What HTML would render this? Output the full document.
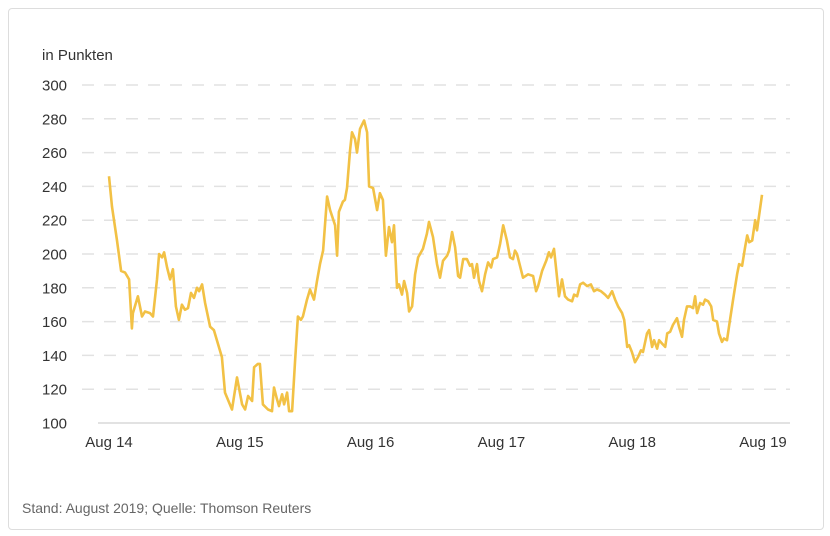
<!DOCTYPE html>
<html><head><meta charset="utf-8"><style>
body{margin:0;background:#fff;width:830px;height:536px;overflow:hidden;font-family:"Liberation Sans",sans-serif}
#card{position:absolute;left:8px;top:8px;width:816px;height:522px;border:1px solid #ddd;border-radius:4px;box-sizing:border-box}
</style></head><body>
<div id="card"></div>
<svg id="chart" width="830" height="536" style="position:absolute;left:0;top:0">
<text x="42" y="60" font-size="15" fill="#333">in Punkten</text>
<g id="grid"></g><g id="xt"></g>
<path id="line" fill="none" stroke="#F2C145" stroke-width="2.6" stroke-linejoin="round"/>
<text x="22" y="513" font-size="14" fill="#666">Stand: August 2019; Quelle: Thomson Reuters</text>
</svg>
<script>
const yTicks=[100,120,140,160,180,200,220,240,260,280,300];
const xLabels=["Aug 14","Aug 15","Aug 16","Aug 17","Aug 18","Aug 19"];
const xLabelWeeks=[0,52,104,156,208,260];
const weeks=[0,1.2,3.2,4.8,6.4,8.0,9.1,9.5,11.5,13.1,14.3,16.3,17.5,19.1,19.9,21.1,21.9,23.1,24.3,25.4,26.6,27.8,29.0,30.2,31.4,32.6,33.8,35.0,35.8,37.0,38.2,40.2,41.7,43.3,44.9,46.1,48.9,50.9,52.9,54.1,55.3,56.9,57.7,59.2,60.0,61.2,63.2,64.8,65.6,66.8,67.6,68.8,69.6,70.8,71.6,72.8,74.0,75.1,76.3,77.1,78.7,79.9,81.5,82.7,83.9,85.1,86.7,87.9,89.9,90.7,91.4,93.0,93.8,94.6,95.8,96.6,97.8,98.6,99.8,101.4,102.6,103.4,105.0,106.6,107.7,108.9,110.1,111.3,112.5,113.3,114.5,115.3,116.5,117.3,118.5,119.3,120.5,121.7,122.9,124.8,126.4,127.2,128.8,130.4,131.6,132.8,134.4,135.2,136.4,137.6,138.8,139.6,140.8,142.3,143.5,144.3,145.1,146.3,147.1,148.3,149.5,150.7,151.9,152.7,154.3,155.5,156.7,158.2,159.4,160.6,161.4,162.2,163.4,164.6,166.6,168.6,169.8,170.6,172.2,173.8,174.9,175.7,176.9,177.7,178.9,180.1,181.3,182.5,184.1,184.9,186.1,187.3,188.5,190.1,191.6,192.8,194.0,195.6,197.2,198.4,200.0,201.2,202.4,204.0,204.8,206.0,206.8,207.9,209.1,210.3,211.5,212.3,213.9,214.7,215.9,216.7,217.9,218.7,219.9,221.1,221.9,223.1,224.2,225.8,226.6,227.8,228.6,229.8,231.0,232.2,233.0,233.8,235.0,236.2,237.0,238.2,239.4,240.2,241.7,242.5,243.7,244.5,245.7,246.9,248.1,249.7,250.5,251.7,252.9,253.7,254.5,255.7,256.9,257.6,259.6];
const values=[246,228,208,190,189,185,156,165,175,163,166,165,163,185,200,198,201,192,185,191,169,161,170,167,168,177,174,180,178,182,171,157,155,147,139,118,108,127,111,108,116,113,133,135,135,111,108,107,121,114,110,117,111,118,107,107,137,163,161,163,173,179,173,184,194,202,234,226,217,199,225,231,232,239,261,272,268,260,274,279,272,240,239,226,236,232,199,216,207,217,180,182,176,184,177,166,169,188,198,203,212,219,210,194,186,196,199,202,213,204,187,186,197,197,193,194,186,194,184,178,188,195,192,197,198,206,217,208,198,197,202,200,193,186,188,187,178,181,190,196,201,198,203,192,175,185,175,173,172,176,175,182,183,181,182,178,179,178,176,174,178,173,169,165,161,145,146,142,136,139,143,142,153,155,145,149,144,149,147,145,153,154,158,162,157,151,161,169,169,168,175,165,171,170,173,172,169,161,160,153,148,150,149,161,173,188,194,193,204,211,207,208,220,214,235];
const X0=109,X1=763,Y0=423,Y1=85;
const xs=w=>X0+(w-0)*(X1-X0)/260;
const ys=v=>Y0-(v-100)*(Y0-Y1)/200;
const NS="http://www.w3.org/2000/svg";
const grid=document.getElementById('grid');
yTicks.forEach(t=>{
  const ln=document.createElementNS(NS,'line');
  
  
  ln.setAttribute('x1',t===100?98:82);ln.setAttribute('x2',790);
  ln.setAttribute('y1',ys(t));ln.setAttribute('y2',ys(t));
  ln.setAttribute('stroke',t===100?'#d0d0d0':'#e2e2e2');ln.setAttribute('stroke-width',t===100?1.2:1.5);
  if(t!==100)ln.setAttribute('stroke-dasharray','12 10');
  grid.appendChild(ln);
  const tx=document.createElementNS(NS,'text');
  
  
  tx.setAttribute('x',42);tx.setAttribute('y',ys(t)+5.5);
  tx.setAttribute('font-size','15');tx.setAttribute('fill','#333');
  tx.textContent=t;grid.appendChild(tx);
});
const xt=document.getElementById('xt');
xLabels.forEach((l,i)=>{
  const tx=document.createElementNS(NS,'text');
  
  
  tx.setAttribute('x',xs(xLabelWeeks[i]));tx.setAttribute('y',447);
  tx.setAttribute('text-anchor','middle');tx.setAttribute('font-size','15');tx.setAttribute('fill','#333');
  tx.textContent=l;xt.appendChild(tx);
});
document.getElementById('line').setAttribute('d',weeks.map((w,i)=>(i?'L':'M')+xs(w).toFixed(1)+','+ys(values[i]).toFixed(1)).join(''));
</script>
</body></html>
